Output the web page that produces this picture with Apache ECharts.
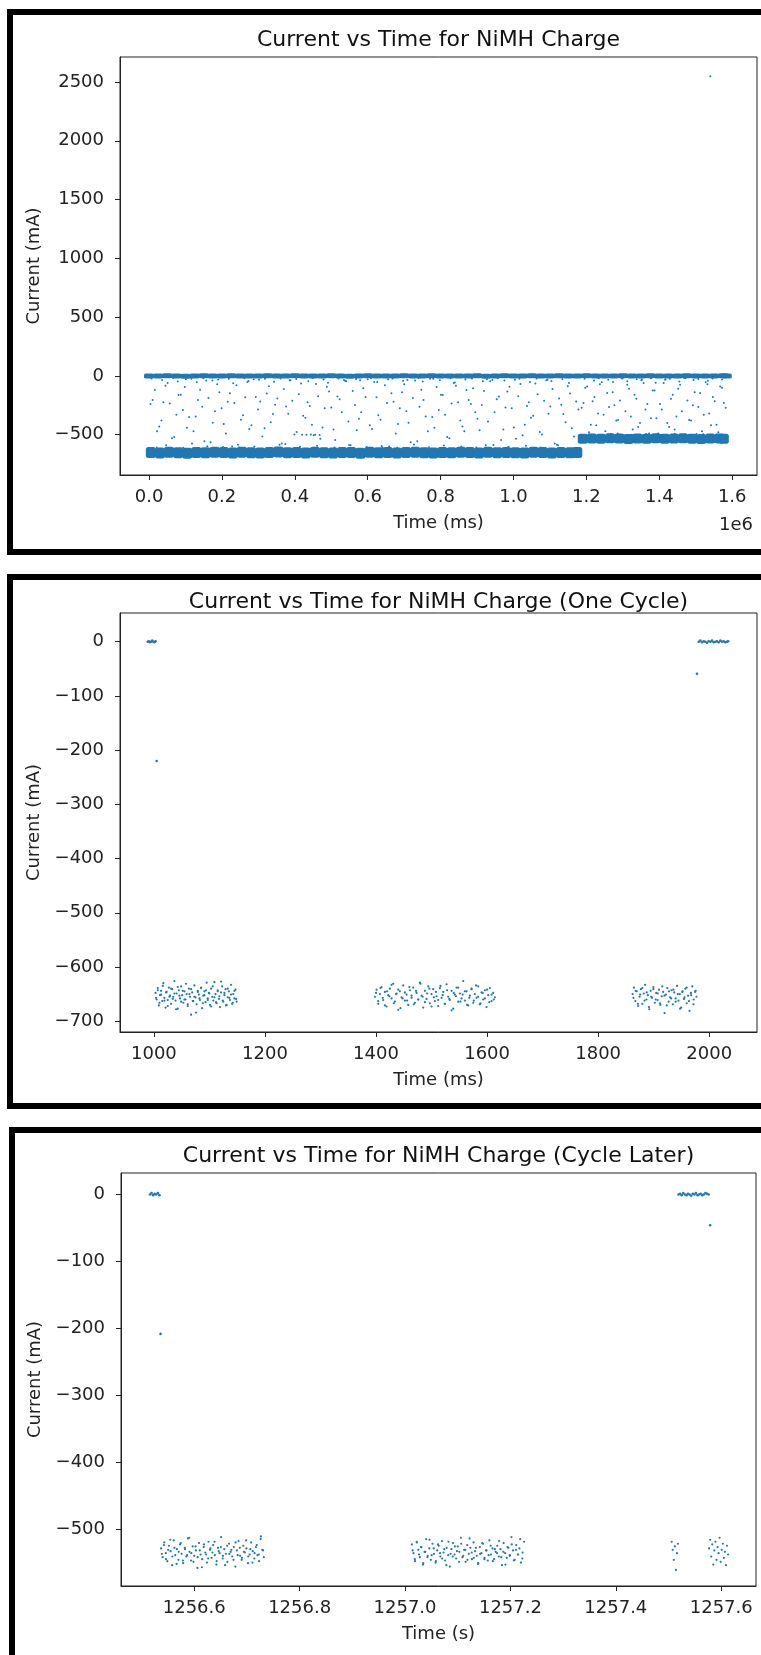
<!DOCTYPE html>
<html>
<head>
<meta charset="utf-8">
<script src="https://cdn.jsdelivr.net/npm/echarts@6/dist/echarts.min.js"></script>
<style>
  html, body { margin: 0; padding: 0; background: #fff; }
  #chart { width: 761px; height: 1655px; }
</style>
</head>
<body>
<div id="chart"></div>
<script>
// ---- panel 1: whole charge, time in units of 1e6 ms ----
const fullTicksX = [0, 0.2, 0.4, 0.6, 0.8, 1.0, 1.2, 1.4, 1.6];
const fullTicksY = [-500, 0, 500, 1000, 1500, 2000, 2500];

const fullZeroBandTime = [
  0.000, 0.025, 0.050, 0.075, 0.100, 0.125, 0.150, 0.175, 0.200, 0.225,
  0.250, 0.275, 0.300, 0.325, 0.350, 0.375, 0.400, 0.425, 0.450, 0.475,
  0.500, 0.525, 0.550, 0.575, 0.600, 0.625, 0.650, 0.675, 0.700, 0.725,
  0.750, 0.775, 0.800, 0.825, 0.850, 0.875, 0.900, 0.925, 0.950, 0.975,
  1.000, 1.025, 1.050, 1.075, 1.100, 1.125, 1.150, 1.175, 1.200, 1.225,
  1.250, 1.275, 1.300, 1.325, 1.350, 1.375, 1.400, 1.425, 1.450, 1.475,
  1.500, 1.525, 1.550, 1.575, 1.585
];
const fullZeroBandCurrent = [
  -1, 0, 1, 0, -2, 0, 1, -1, 0, 2,
  0, -1, 0, 1, 0, -1, 2, 0, -1, 0,
  1, 0, -2, 0, 1, 0, -1, 0, 2, -1,
  0, 1, 0, -1, 0, 0, 1, -2, 0, 1,
  0, -1, 1, 0, 0, 2, -1, 0, 1, 0,
  -1, 0, 1, -1, 0, 2, 0, -1, 0, 1,
  0, -1, 0, 1, 0
];

const fullHighBandTime = [
  0.005, 0.030, 0.055, 0.080, 0.105, 0.130, 0.155, 0.180, 0.205, 0.230,
  0.255, 0.280, 0.305, 0.330, 0.355, 0.380, 0.405, 0.430, 0.455, 0.480,
  0.505, 0.530, 0.555, 0.580, 0.605, 0.630, 0.655, 0.680, 0.705, 0.730,
  0.755, 0.780, 0.805, 0.830, 0.855, 0.880, 0.905, 0.930, 0.955, 0.980,
  1.005, 1.030, 1.055, 1.080, 1.105, 1.130, 1.155, 1.175
];
const fullHighBandCurrent = [
  -652, -655, -650, -653, -657, -651, -654, -649, -652, -656,
  -650, -653, -655, -651, -648, -654, -652, -656, -650, -653,
  -655, -651, -652, -657, -649, -653, -651, -655, -652, -650,
  -654, -656, -651, -653, -649, -652, -655, -650, -654, -651,
  -653, -656, -650, -652, -655, -651, -653, -652
];

const fullLowBandTime = [
  1.190, 1.215, 1.240, 1.265, 1.290, 1.315, 1.340, 1.365, 1.390, 1.415,
  1.440, 1.465, 1.490, 1.515, 1.540, 1.565, 1.577
];
const fullLowBandCurrent = [
  -534, -532, -535, -531, -533, -536, -532, -534, -530, -535,
  -533, -531, -534, -536, -532, -533, -534
];

const fullScatterTime = [
  0.004, 0.016, 0.028, 0.039, 0.051, 0.063, 0.075, 0.087, 0.098, 0.110,
  0.122, 0.134, 0.146, 0.157, 0.169, 0.181, 0.193, 0.205, 0.216, 0.228,
  0.240, 0.252, 0.264, 0.275, 0.287, 0.299, 0.311, 0.323, 0.334, 0.346,
  0.358, 0.370, 0.382, 0.393, 0.405, 0.417, 0.429, 0.441, 0.452, 0.464,
  0.476, 0.488, 0.500, 0.511, 0.523, 0.535, 0.547, 0.559, 0.570, 0.582,
  0.594, 0.606, 0.618, 0.629, 0.641, 0.653, 0.665, 0.677, 0.688, 0.700,
  0.712, 0.724, 0.736, 0.747, 0.759, 0.771, 0.783, 0.795, 0.806, 0.818,
  0.830, 0.842, 0.854, 0.865, 0.877, 0.889, 0.901, 0.913, 0.924, 0.936,
  0.948, 0.960, 0.972, 0.983, 0.995, 1.007, 1.019, 1.031, 1.042, 1.054,
  1.066, 1.078, 1.090, 1.101, 1.113, 1.125, 1.137, 1.149, 1.160, 1.172,
  0.010, 0.022, 0.034, 0.045, 0.057, 0.069, 0.081, 0.093, 0.104, 0.116,
  0.128, 0.140, 0.152, 0.163, 0.175, 0.187, 0.199, 0.211, 0.222, 0.234,
  0.246, 0.258, 0.270, 0.281, 0.293, 0.305, 0.317, 0.329, 0.340, 0.352,
  0.364, 0.376, 0.388, 0.399, 0.411, 0.423, 0.435, 0.447, 0.458, 0.470,
  0.482, 0.494, 0.506, 0.517, 0.529, 0.541, 0.553, 0.565, 0.576, 0.588,
  0.600, 0.612, 0.624, 0.635, 0.647, 0.659, 0.671, 0.683, 0.694, 0.706,
  0.718, 0.730, 0.742, 0.753, 0.765, 0.777, 0.789, 0.801, 0.812, 0.824,
  0.836, 0.848, 0.860, 0.871, 0.883, 0.895, 0.907, 0.919, 0.930, 0.942,
  0.954, 0.966, 0.978, 0.989, 1.001, 1.013, 1.025, 1.037, 1.048, 1.060,
  1.072, 1.084, 1.096, 1.107, 1.119, 1.131, 1.143, 1.155, 1.166, 1.178,
  1.192, 1.202, 1.212, 1.222, 1.232, 1.242, 1.252, 1.262, 1.272, 1.282,
  1.292, 1.302, 1.312, 1.322, 1.332, 1.342, 1.352, 1.362, 1.372, 1.382,
  1.392, 1.402, 1.412, 1.422, 1.432, 1.442, 1.452, 1.462, 1.472, 1.482,
  1.492, 1.502, 1.512, 1.522, 1.532, 1.542, 1.552, 1.562, 1.572, 1.582,
  1.187, 1.197, 1.207, 1.217, 1.227, 1.237, 1.247, 1.257, 1.267, 1.277,
  1.287, 1.297, 1.307, 1.317, 1.327, 1.337, 1.347, 1.357, 1.367, 1.377,
  1.387, 1.397, 1.407, 1.417, 1.427, 1.437, 1.447, 1.457, 1.467, 1.477,
  1.487, 1.497, 1.507, 1.517, 1.527, 1.537, 1.547, 1.557, 1.567, 1.577,
  0.007, 0.021, 0.036, 0.047, 0.066, 0.079, 0.094, 0.101, 0.118, 0.131,
  0.149, 0.160, 0.174, 0.190, 0.203, 0.219, 0.231, 0.244, 0.262, 0.273,
  0.289, 0.302, 0.318, 0.327, 0.343, 0.361, 0.374, 0.386, 0.404, 0.414,
  0.437, 0.449, 0.461, 0.479, 0.491, 0.509, 0.520, 0.538, 0.549, 0.568,
  0.579, 0.597, 0.609, 0.626, 0.638, 0.656, 0.668, 0.681, 0.697, 0.709,
  0.727, 0.739, 0.751, 0.768, 0.780, 0.798, 0.809, 0.827, 0.839, 0.857,
  0.868, 0.886, 0.898, 0.916, 0.927, 0.945, 0.957, 0.975, 0.986, 1.004,
  1.016, 1.034, 1.045, 1.063, 1.075, 1.093, 1.104, 1.122, 1.134, 1.152,
  1.195, 1.208, 1.221, 1.234, 1.247, 1.260, 1.273, 1.286, 1.299, 1.312,
  1.325, 1.338, 1.351, 1.364, 1.377, 1.390, 1.403, 1.416, 1.429, 1.442,
  1.455, 1.468, 1.481, 1.494, 1.507, 1.520, 1.533, 1.546, 1.559, 1.572,
  0.420, 0.432, 0.444, 0.456, 0.468, 1.540
];
const fullScatterCurrent = [
  -240, -120, -430, -225, -60, -530, -330, -160, -95, -350,
  -470, -205, -262, -40, -565, -300, -140, -410, -220, -600,
  -80, -372, -182, -452, -28, -285, -515, -150, -395, -245,
  -585, -112, -322, -212, -478, -64, -355, -255, -505, -172,
  -438, -92, -268, -545, -198, -35, -388, -128, -462, -310,
  -180, -420, -52, -335, -610, -230, -148, -490, -275, -72,
  -398, -188, -555, -118, -345, -25, -442, -290, -162, -520,
  -235, -84, -380, -470, -205, -105, -365, -248, -590, -45,
  -310, -175, -455, -132, -275, -535, -68, -415, -225, -340,
  -155, -498, -38, -260, -575, -192, -325, -88, -445, -218,
  -205, -470, -380, -84, -235, -520, -162, -290, -442, -25,
  -345, -118, -555, -188, -398, -72, -275, -490, -148, -230,
  -610, -335, -52, -420, -180, -218, -445, -88, -325, -192,
  -575, -260, -38, -498, -155, -340, -225, -415, -68, -535,
  -275, -132, -455, -175, -310, -45, -590, -248, -365, -105,
  -28, -452, -182, -372, -80, -600, -220, -410, -140, -300,
  -565, -40, -262, -205, -470, -350, -95, -160, -330, -530,
  -60, -225, -430, -120, -240, -310, -462, -128, -388, -35,
  -198, -545, -268, -92, -438, -172, -505, -255, -355, -64,
  -478, -212, -322, -112, -585, -245, -395, -150, -515, -285,
  -230, -90, -415, -180, -320, -55, -470, -265, -140, -380,
  -210, -505, -75, -345, -160, -435, -30, -285, -490, -125,
  -360, -240, -60, -400, -195, -455, -110, -300, -20, -375,
  -250, -495, -145, -330, -70, -420, -215, -480, -100, -270,
  -270, -100, -480, -215, -420, -70, -330, -145, -495, -250,
  -375, -20, -300, -110, -455, -195, -400, -60, -240, -360,
  -125, -490, -285, -30, -435, -160, -345, -75, -505, -210,
  -380, -140, -265, -470, -55, -320, -180, -415, -90, -230,
  -22, -608, -35, -590, -18, -47, -612, -28, -575, -55,
  -20, -598, -40, -30, -605, -25, -62, -585, -19, -44,
  -600, -33, -24, -615, -50, -21, -580, -38, -27, -602,
  -45, -17, -595, -31, -58, -610, -23, -42, -588, -26,
  -36, -604, -19, -52, -596, -29, -22, -612, -41, -34,
  -583, -18, -48, -606, -25, -37, -592, -20, -56, -600,
  -30, -23, -610, -46, -28, -587, -19, -39, -603, -33,
  -24, -595, -51, -21, -608, -32, -43, -590, -26, -60,
  -25, -498, -40, -19, -505, -33, -52, -490, -22, -45,
  -500, -28, -36, -495, -20, -58, -503, -31, -24, -492,
  -47, -18, -508, -35, -27, -496, -42, -21, -501, -30,
  -500, -501, -499, -500, -502, 2550
];

// ---- panel 2: one cycle, time in ms ----
const cycleTicksX = [1000, 1200, 1400, 1600, 1800, 2000];
const cycleTicksY = [-700, -600, -500, -400, -300, -200, -100, 0];

const cycleRestTime = [
  989, 991, 993, 995, 997, 999, 1001, 1003,
  1981, 1984, 1987, 1990, 1993, 1996, 1999, 2002, 2005, 2008,
  2011, 2014, 2017, 2020, 2023, 2026, 2029, 2032, 2034,
  1005, 1978
];
const cycleRestCurrent = [
  0, 1, -1, 0, 2, 0, -1, 1,
  0, 2, -1, 1, 0, -2, 1, 0, 2, -1,
  0, 1, -1, 2, 0, 1, -1, 0, 1,
  -220, -59
];

const cyclePulse1Time = [
  1003, 1005, 1007, 1009, 1011, 1013, 1015, 1017, 1019, 1021,
  1023, 1025, 1027, 1029, 1031, 1033, 1035, 1037, 1039, 1041,
  1043, 1045, 1047, 1049, 1051, 1053, 1055, 1057, 1059, 1061,
  1063, 1065, 1067, 1069, 1071, 1073, 1075, 1077, 1079, 1081,
  1083, 1085, 1087, 1089, 1091, 1093, 1095, 1097, 1099, 1101,
  1103, 1105, 1107, 1109, 1111, 1113, 1115, 1117, 1119, 1121,
  1123, 1125, 1127, 1129, 1131, 1133, 1135, 1137, 1139, 1141,
  1143, 1145, 1147, 1149,
  1004, 1007, 1010, 1013, 1016, 1019, 1022, 1025, 1028, 1031,
  1034, 1037, 1040, 1043, 1046, 1049, 1052, 1055, 1058, 1061,
  1064, 1067, 1070, 1073, 1076, 1079, 1082, 1085, 1088, 1091,
  1094, 1097, 1100, 1103, 1106, 1109, 1112, 1115, 1118, 1121,
  1124, 1127, 1130, 1133, 1136, 1139, 1142, 1145, 1148
];
const cyclePulse1Current = [
  -648, -660, -639, -671, -652, -644, -663, -630, -657, -675,
  -646, -661, -638, -653, -668, -641, -655, -626, -662, -649,
  -677, -643, -658, -636, -652, -666, -645, -660, -650, -672,
  -640, -655, -688, -647, -663, -634, -656, -669, -644, -651,
  -661, -639, -676, -653, -645, -665, -629, -658, -648, -670,
  -640, -655, -662, -628, -650, -667, -643, -659, -674, -647,
  -636, -664, -652, -641, -670, -656, -645, -661, -633, -668,
  -650, -658, -642, -664,
  -657, -643, -666, -651, -635, -662, -647, -672, -655, -640,
  -659, -649, -678, -637, -653, -664, -644, -660, -631, -669,
  -650, -641, -663, -655, -684, -646, -658, -638, -667, -652,
  -643, -661, -649, -673, -636, -656, -665, -645, -654, -627,
  -662, -648, -671, -640, -657, -651, -666, -644, -659
];

const cyclePulse2Time = [
  1398, 1401, 1404, 1407, 1410, 1413, 1416, 1419, 1422, 1425,
  1428, 1431, 1434, 1437, 1440, 1443, 1446, 1449, 1452, 1455,
  1458, 1461, 1464, 1467, 1470, 1473, 1476, 1479, 1482, 1485,
  1488, 1491, 1494, 1497, 1500, 1503, 1506, 1509, 1512, 1515,
  1518, 1521, 1524, 1527, 1530, 1533, 1536, 1539, 1542, 1545,
  1548, 1551, 1554, 1557, 1560, 1563, 1566, 1569, 1572, 1575,
  1578, 1581, 1584, 1587, 1590, 1593, 1596, 1599, 1602, 1605,
  1608, 1611, 1614,
  1400, 1404, 1408, 1412, 1416, 1420, 1424, 1428, 1432, 1436,
  1440, 1444, 1448, 1452, 1456, 1460, 1464, 1468, 1472, 1476,
  1480, 1484, 1488, 1492, 1496, 1500, 1504, 1508, 1512, 1516,
  1520, 1524, 1528, 1532, 1536, 1540, 1544, 1548, 1552, 1556,
  1560, 1564, 1568, 1572, 1576, 1580, 1584, 1588, 1592, 1596,
  1600, 1604, 1608, 1612
];
const cyclePulse2Current = [
  -655, -642, -668, -650, -637, -661, -646, -673, -652, -640,
  -658, -631, -664, -649, -679, -645, -656, -634, -662, -651,
  -670, -643, -657, -638, -666, -648, -660, -629, -653, -675,
  -644, -659, -636, -667, -650, -641, -663, -654, -672, -639,
  -657, -646, -668, -632, -655, -661, -644, -677, -651, -638,
  -664, -649, -658, -626, -662, -645, -671, -653, -640, -666,
  -650, -657, -636, -669, -647, -660, -643, -674, -652, -639,
  -663, -648, -656,
  -648, -663, -639, -657, -671, -645, -654, -633, -667, -650,
  -642, -676, -658, -647, -662, -637, -653, -669, -644, -660,
  -631, -655, -665, -649, -640, -673, -656, -646, -661, -635,
  -652, -668, -643, -659, -680, -648, -654, -638, -664, -651,
  -645, -670, -657, -641, -662, -634, -655, -667, -648, -658,
  -642, -665, -651, -660
];

const cyclePulse3Time = [
  1862, 1864.5, 1867, 1869.5, 1872, 1874.5, 1877, 1879.5, 1882, 1884.5,
  1887, 1889.5, 1892, 1894.5, 1897, 1899.5, 1902, 1904.5, 1907, 1909.5,
  1912, 1914.5, 1917, 1919.5, 1922, 1924.5, 1927, 1929.5, 1932, 1934.5,
  1937, 1939.5, 1942, 1944.5, 1947, 1949.5, 1952, 1954.5, 1957, 1959.5,
  1962, 1964.5, 1967, 1969.5, 1972, 1974.5, 1977,
  1863.5, 1867.5, 1871.5, 1875.5, 1879.5, 1883.5, 1887.5, 1891.5, 1895.5, 1899.5,
  1903.5, 1907.5, 1911.5, 1915.5, 1919.5, 1923.5, 1927.5, 1931.5, 1935.5, 1939.5,
  1943.5, 1947.5, 1951.5, 1955.5, 1959.5, 1963.5, 1967.5, 1971.5, 1975.5
];
const cyclePulse3Current = [
  -650, -638, -663, -645, -672, -655, -641, -668, -649, -633,
  -660, -652, -678, -644, -657, -637, -666, -648, -661, -642,
  -670, -654, -646, -685, -651, -639, -664, -656, -643, -669,
  -647, -658, -635, -662, -650, -675, -645, -659, -640, -667,
  -653, -681, -648, -636, -660, -646, -655,
  -657, -644, -668, -651, -639, -662, -647, -674, -655, -641,
  -660, -649, -667, -636, -653, -671, -645, -658, -642, -664,
  -650, -677, -646, -656, -638, -663, -652, -669, -644
];

// ---- panel 3: a later cycle, time in s ----
const laterTicksX = [1256.6, 1256.8, 1257.0, 1257.2, 1257.4, 1257.6];
const laterTicksY = [-500, -400, -300, -200, -100, 0];

const laterRestTime = [
  1256.516, 1256.519, 1256.522, 1256.525, 1256.528, 1256.531, 1256.534,
  1257.519, 1257.522, 1257.525, 1257.528, 1257.531, 1257.534, 1257.537,
  1257.540, 1257.543, 1257.546, 1257.549, 1257.552, 1257.555, 1257.558,
  1257.561, 1257.564, 1257.567, 1257.570, 1257.573, 1257.576,
  1256.536, 1257.579
];
const laterRestCurrent = [
  0, 2, -1, 1, 0, 2, -1,
  0, 1, -1, 2, 0, -1, 1,
  0, -2, 1, 0, 2, -1, 0,
  1, -1, 0, 2, 1, 0,
  -208, -46
];

const laterPulse1Time = [
  1256.537, 1256.540, 1256.543, 1256.546, 1256.549, 1256.552, 1256.555, 1256.558, 1256.561, 1256.564,
  1256.567, 1256.570, 1256.573, 1256.576, 1256.579, 1256.582, 1256.585, 1256.588, 1256.591, 1256.594,
  1256.597, 1256.600, 1256.603, 1256.606, 1256.609, 1256.612, 1256.615, 1256.618, 1256.621, 1256.624,
  1256.627, 1256.630, 1256.633, 1256.636, 1256.639, 1256.642, 1256.645, 1256.648, 1256.651, 1256.654,
  1256.657, 1256.660, 1256.663, 1256.666, 1256.669, 1256.672, 1256.675, 1256.678, 1256.681, 1256.684,
  1256.687, 1256.690, 1256.693, 1256.696, 1256.699, 1256.702, 1256.705, 1256.708, 1256.711, 1256.714,
  1256.717, 1256.720, 1256.723, 1256.726, 1256.729, 1256.732,
  1256.5385, 1256.5425, 1256.5465, 1256.5505, 1256.5545, 1256.5585, 1256.5625, 1256.5665, 1256.5705, 1256.5745,
  1256.5785, 1256.5825, 1256.5865, 1256.5905, 1256.5945, 1256.5985, 1256.6025, 1256.6065, 1256.6105, 1256.6145,
  1256.6185, 1256.6225, 1256.6265, 1256.6305, 1256.6345, 1256.6385, 1256.6425, 1256.6465, 1256.6505, 1256.6545,
  1256.6585, 1256.6625, 1256.6665, 1256.6705, 1256.6745, 1256.6785, 1256.6825, 1256.6865, 1256.6905, 1256.6945,
  1256.6985, 1256.7025, 1256.7065, 1256.7105, 1256.7145, 1256.7185, 1256.7225, 1256.7265, 1256.7305
];
const laterPulse1Current = [
  -528, -541, -519, -535, -547, -524, -532, -553, -516, -538,
  -529, -545, -522, -536, -550, -527, -540, -513, -533, -546,
  -525, -539, -531, -557, -520, -537, -544, -526, -534, -549,
  -518, -530, -542, -523, -538, -552, -527, -535, -511, -543,
  -529, -536, -548, -521, -533, -540, -526, -555, -531, -517,
  -539, -545, -524, -534, -528, -550, -537, -519, -532, -543,
  -526, -538, -547, -514, -530, -541,
  -536, -523, -544, -530, -515, -540, -527, -551, -533, -520,
  -546, -529, -538, -512, -535, -548, -525, -541, -531, -556,
  -522, -537, -543, -528, -534, -518, -547, -532, -526, -539,
  -553, -524, -536, -530, -545, -519, -538, -527, -542, -533,
  -516, -540, -529, -549, -535, -523, -537, -510, -531
];

const laterPulse2Time = [
  1257.013, 1257.016, 1257.019, 1257.022, 1257.025, 1257.028, 1257.031, 1257.034, 1257.037, 1257.040,
  1257.043, 1257.046, 1257.049, 1257.052, 1257.055, 1257.058, 1257.061, 1257.064, 1257.067, 1257.070,
  1257.073, 1257.076, 1257.079, 1257.082, 1257.085, 1257.088, 1257.091, 1257.094, 1257.097, 1257.100,
  1257.103, 1257.106, 1257.109, 1257.112, 1257.115, 1257.118, 1257.121, 1257.124, 1257.127, 1257.130,
  1257.133, 1257.136, 1257.139, 1257.142, 1257.145, 1257.148, 1257.151, 1257.154, 1257.157, 1257.160,
  1257.163, 1257.166, 1257.169, 1257.172, 1257.175, 1257.178, 1257.181, 1257.184, 1257.187, 1257.190,
  1257.193, 1257.196, 1257.199, 1257.202, 1257.205, 1257.208, 1257.211, 1257.214, 1257.217, 1257.220,
  1257.223, 1257.226,
  1257.0145, 1257.0185, 1257.0225, 1257.0265, 1257.0305, 1257.0345, 1257.0385, 1257.0425, 1257.0465, 1257.0505,
  1257.0545, 1257.0585, 1257.0625, 1257.0665, 1257.0705, 1257.0745, 1257.0785, 1257.0825, 1257.0865, 1257.0905,
  1257.0945, 1257.0985, 1257.1025, 1257.1065, 1257.1105, 1257.1145, 1257.1185, 1257.1225, 1257.1265, 1257.1305,
  1257.1345, 1257.1385, 1257.1425, 1257.1465, 1257.1505, 1257.1545, 1257.1585, 1257.1625, 1257.1665, 1257.1705,
  1257.1745, 1257.1785, 1257.1825, 1257.1865, 1257.1905, 1257.1945, 1257.1985, 1257.2025, 1257.2065, 1257.2105,
  1257.2145, 1257.2185, 1257.2225
];
const laterPulse2Current = [
  -522, -535, -547, -518, -530, -541, -526, -552, -533, -514,
  -539, -528, -545, -521, -536, -549, -531, -524, -540, -517,
  -534, -546, -527, -538, -555, -529, -520, -537, -543, -525,
  -533, -512, -541, -530, -548, -523, -536, -527, -544, -519,
  -532, -539, -550, -526, -535, -521, -542, -531, -546, -516,
  -537, -528, -544, -533, -524, -540, -529, -553, -520, -535,
  -542, -527, -538, -511, -531, -545, -523, -537, -528, -549,
  -534, -518,
  -531, -544, -519, -537, -526, -550, -533, -541, -515, -538,
  -528, -547, -522, -535, -543, -529, -553, -518, -536, -540,
  -525, -532, -548, -521, -539, -530, -545, -513, -534, -542,
  -527, -551, -536, -520, -544, -531, -538, -524, -547, -529,
  -535, -517, -541, -533, -552, -526, -539, -522, -546, -530,
  -537, -514, -543
];

const laterPulse3Time = [
  1257.506, 1257.508, 1257.510, 1257.512, 1257.514, 1257.516, 1257.518,
  1257.577, 1257.579, 1257.581, 1257.583, 1257.585, 1257.587, 1257.589, 1257.591, 1257.593,
  1257.595, 1257.597, 1257.599, 1257.601, 1257.603, 1257.605, 1257.607, 1257.609, 1257.611, 1257.613
];
const laterPulse3Current = [
  -518, -530, -545, -525, -560, -535, -521,
  -528, -515, -540, -522, -552, -531, -518, -545, -526,
  -535, -512, -548, -530, -521, -542, -533, -553, -524, -537
];

const FONT = "'DejaVu Sans', sans-serif";
const BLUE = '#1f77b4';
const INK = '#222';

function zip(times, currents) {
  return times.map((t, i) => [t, currents[i]]);
}

function minusSign(v) {
  return v < 0 ? '\u2212' + Math.abs(v) : String(v);
}

function xAxisFor(grid, min, max, ticks, name, fmt) {
  return {
    type: 'value', gridIndex: grid, min: min, max: max,
    name: name, nameLocation: 'middle', nameGap: 39,
    nameTextStyle: { fontFamily: FONT, fontSize: 18, color: INK },
    axisLine: { show: true, onZero: false, lineStyle: { color: INK, width: 1 } },
    axisTick: { show: true, length: 5, customValues: ticks, lineStyle: { color: INK } },
    axisLabel: { customValues: ticks, formatter: fmt, margin: 13, fontFamily: FONT, fontSize: 18, color: INK },
    splitLine: { show: false }
  };
}

function yAxisFor(grid, min, max, ticks) {
  return {
    type: 'value', gridIndex: grid, min: min, max: max,
    name: 'Current (mA)', nameLocation: 'middle', nameGap: 72, nameRotate: 90,
    nameTextStyle: { fontFamily: FONT, fontSize: 18, color: INK },
    axisLine: { show: true, onZero: false, lineStyle: { color: INK, width: 1 } },
    axisTick: { show: true, length: 5, customValues: ticks, lineStyle: { color: INK } },
    axisLabel: { customValues: ticks, formatter: minusSign, margin: 16, fontFamily: FONT, fontSize: 18, color: INK },
    splitLine: { show: false }
  };
}

function gridAt(left, top, width, height) {
  return { left: left, top: top, width: width, height: height, show: true, borderColor: INK, borderWidth: 1 };
}

function titleAt(text, top) {
  return {
    text: text, left: 438.5, top: top, textAlign: 'center', padding: 0,
    textStyle: { fontFamily: FONT, fontSize: 22, fontWeight: 'normal', color: '#111' }
  };
}

function dots(axis, data, size, symbol) {
  return {
    type: 'scatter', xAxisIndex: axis, yAxisIndex: axis, data: data,
    symbol: symbol || 'circle', symbolSize: size,
    itemStyle: { color: BLUE, opacity: 1 }, silent: true
  };
}

function frame(x, y, w, h) {
  return { type: 'rect', z: 100, shape: { x: x, y: y, width: w, height: h },
    style: { fill: 'none', stroke: '#000', lineWidth: 6 } };
}

const chart = echarts.init(document.getElementById('chart'));

const option = {
  animation: false,
  backgroundColor: '#fff',
  title: [
    titleAt('Current vs Time for NiMH Charge', 29),
    titleAt('Current vs Time for NiMH Charge (One Cycle)', 591),
    titleAt('Current vs Time for NiMH Charge (Cycle Later)', 1145)
  ],
  grid: [
    gridAt(120, 57, 637, 418),
    gridAt(120, 613, 637, 419),
    gridAt(121, 1173, 635, 413)
  ],
  xAxis: [
    xAxisFor(0, -0.0796, 1.668, fullTicksX, 'Time (ms)', v => v.toFixed(1)),
    xAxisFor(1, 939, 2086, cycleTicksX, 'Time (ms)', v => String(v)),
    xAxisFor(2, 1256.461, 1257.666, laterTicksX, 'Time (s)', v => v.toFixed(1))
  ],
  yAxis: [
    yAxisFor(0, -843, 2713, fullTicksY),
    yAxisFor(1, -720, 53, cycleTicksY),
    yAxisFor(2, -584, 32, laterTicksY)
  ],
  series: [
    dots(0, zip(fullHighBandTime, fullHighBandCurrent), [10, 11], 'roundRect'),
    dots(0, zip(fullLowBandTime, fullLowBandCurrent), [10, 10], 'roundRect'),
    dots(0, zip(fullZeroBandTime, fullZeroBandCurrent), [10, 5], 'roundRect'),
    dots(0, zip(fullScatterTime, fullScatterCurrent), 2),
    dots(1, zip(cycleRestTime, cycleRestCurrent), 2.6),
    dots(1, zip(cyclePulse1Time, cyclePulse1Current), 2.2),
    dots(1, zip(cyclePulse2Time, cyclePulse2Current), 2.2),
    dots(1, zip(cyclePulse3Time, cyclePulse3Current), 2.2),
    dots(2, zip(laterRestTime, laterRestCurrent), 2.6),
    dots(2, zip(laterPulse1Time, laterPulse1Current), 2.2),
    dots(2, zip(laterPulse2Time, laterPulse2Current), 2.2),
    dots(2, zip(laterPulse3Time, laterPulse3Current), 2.2)
  ],
  graphic: [
    frame(10, 12, 800, 540),
    frame(10, 577, 800, 529),
    frame(12, 1130, 800, 600),
    { type: 'text', x: 753, y: 525, z: 50,
      style: { text: '1e6', align: 'right', verticalAlign: 'middle', fontFamily: FONT, fontSize: 18, fill: INK } }
  ]
};

chart.setOption(option);
</script>
</body>
</html>
